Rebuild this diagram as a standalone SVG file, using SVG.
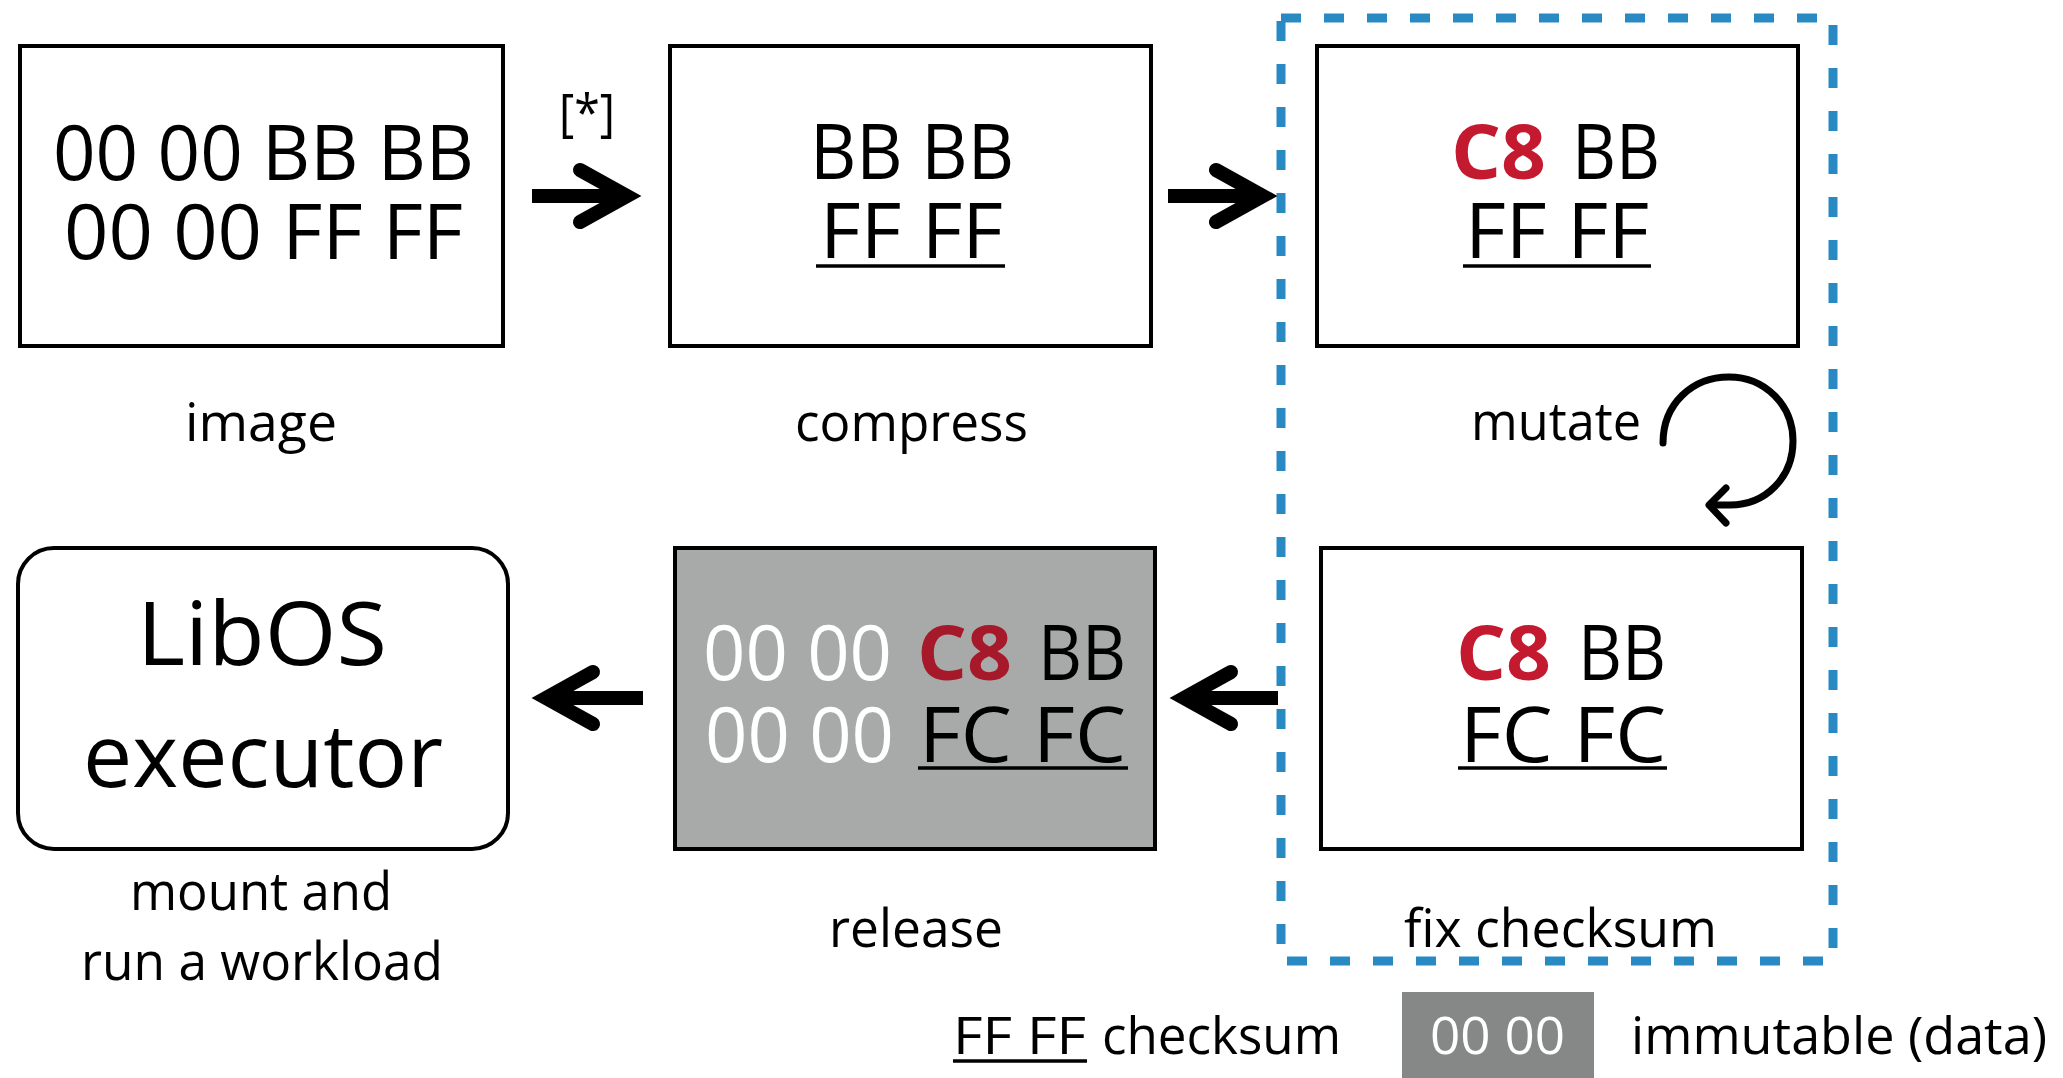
<svg xmlns="http://www.w3.org/2000/svg" width="2063" height="1078" viewBox="0 0 2063 1078">
  <style>
    text { font-family: "Open Sans", "Liberation Sans", sans-serif; fill: #000; }
    .box { fill: #fff; stroke: #000; stroke-width: 4; }
    .gray { fill: #a7aaa9; stroke: #000; stroke-width: 4; }
    .hex { font-size: 76px; }
    .big { font-size: 88px; }
    .lbl { font-size: 53px; }
    .leg { font-size: 51px; }
    .red { fill: #c41a2f; font-weight: 700; }
    .red-dim { fill: #a6192b; font-weight: 700; }
    .wh { fill: #fff; }
    .ul { stroke: #000; stroke-width: 3.5; }
    .shaft { stroke: #000; stroke-width: 14; fill: none; }
    .loop { stroke: #000; stroke-width: 7; fill: none; stroke-linecap: round; stroke-linejoin: round; }
    .group { fill: none; stroke: #2889c3; stroke-width: 9; stroke-dasharray: 20 23; }
  </style>
  <defs>
    <marker id="chevron" markerUnits="userSpaceOnUse" viewBox="-80 -45 110 90" refX="0" refY="0" markerWidth="110" markerHeight="90" orient="auto" overflow="visible">
      <path d="M-47,-26 L0,0 L-47,26" fill="none" stroke="#000" stroke-width="14" stroke-linecap="round" stroke-linejoin="miter" stroke-miterlimit="6"/>
    </marker>
  </defs>

  <!-- dashed group around mutate / fix checksum -->
  <rect id="mutation-loop" class="group" x="1281" y="18" width="552" height="943"/>

  <g id="image">
    <rect class="box" x="20" y="46" width="483" height="300"/>
    <text class="hex"><tspan x="53" y="180" textLength="421" lengthAdjust="spacingAndGlyphs">00 00 BB BB</tspan><tspan x="64" y="259" textLength="399" lengthAdjust="spacingAndGlyphs">00 00 FF FF</tspan></text>
    <text class="lbl" x="185" y="441" textLength="152" lengthAdjust="spacingAndGlyphs">image</text>
  </g>

  <g id="compress">
    <rect class="box" x="670" y="46" width="481" height="300"/>
    <text class="hex"><tspan x="810" y="179" textLength="204" lengthAdjust="spacingAndGlyphs">BB BB</tspan><tspan x="820" y="258" textLength="183" lengthAdjust="spacingAndGlyphs">FF FF</tspan></text>
    <line class="ul" x1="816" y1="266" x2="1005" y2="266"/>
    <text class="lbl" x="795" y="441" textLength="233" lengthAdjust="spacingAndGlyphs">compress</text>
  </g>

  <g id="mutate">
    <rect class="box" x="1317" y="46" width="481" height="300"/>
    <text class="hex"><tspan class="red" x="1451" y="179" textLength="95" lengthAdjust="spacingAndGlyphs">C8</tspan><tspan x="1572" y="179" textLength="88" lengthAdjust="spacingAndGlyphs">BB</tspan><tspan x="1465" y="258" textLength="184" lengthAdjust="spacingAndGlyphs">FF FF</tspan></text>
    <line class="ul" x1="1463" y1="266" x2="1651" y2="266"/>
    <text class="lbl" x="1471" y="440" textLength="170" lengthAdjust="spacingAndGlyphs">mutate</text>
  </g>

  <g id="fix-checksum">
    <rect class="box" x="1321" y="548" width="481" height="301"/>
    <text class="hex"><tspan class="red" x="1456" y="680" textLength="95" lengthAdjust="spacingAndGlyphs">C8</tspan><tspan x="1578" y="680" textLength="88" lengthAdjust="spacingAndGlyphs">BB</tspan><tspan x="1460" y="762" textLength="206" lengthAdjust="spacingAndGlyphs">FC FC</tspan></text>
    <line class="ul" x1="1458" y1="768" x2="1667" y2="768"/>
    <text class="lbl" x="1404" y="947" textLength="313" lengthAdjust="spacingAndGlyphs">fix checksum</text>
  </g>

  <g id="release">
    <rect class="gray" x="675" y="548" width="480" height="301"/>
    <text class="hex"><tspan class="wh" x="703" y="680" textLength="189" lengthAdjust="spacingAndGlyphs">00 00</tspan><tspan class="red-dim" x="917" y="680" textLength="95" lengthAdjust="spacingAndGlyphs">C8</tspan><tspan x="1038" y="680" textLength="88" lengthAdjust="spacingAndGlyphs">BB</tspan><tspan class="wh" x="705" y="762" textLength="189" lengthAdjust="spacingAndGlyphs">00 00</tspan><tspan x="919" y="762" textLength="207" lengthAdjust="spacingAndGlyphs">FC FC</tspan></text>
    <line class="ul" x1="918" y1="768" x2="1128" y2="768"/>
    <text class="lbl" x="829" y="947" textLength="174" lengthAdjust="spacingAndGlyphs">release</text>
  </g>

  <g id="libos-executor">
    <rect class="box" x="18" y="548" width="490" height="301" rx="36" ry="36"/>
    <text class="big"><tspan x="137" y="665" textLength="250" lengthAdjust="spacingAndGlyphs">LibOS</tspan><tspan x="83" y="787" textLength="360" lengthAdjust="spacingAndGlyphs">executor</tspan></text>
    <text class="lbl"><tspan x="130" y="910" textLength="262" lengthAdjust="spacingAndGlyphs">mount and</tspan><tspan x="81" y="980" textLength="362" lengthAdjust="spacingAndGlyphs">run a workload</tspan></text>
  </g>

  <g id="connectors">
    <text x="559" y="131" style="font-size:52px" textLength="56" lengthAdjust="spacingAndGlyphs">[*]</text>
    <line class="shaft" x1="532" y1="196" x2="627" y2="196" marker-end="url(#chevron)"/>
    <line class="shaft" x1="1168" y1="196" x2="1263" y2="196" marker-end="url(#chevron)"/>
    <line class="shaft" x1="1278" y1="698" x2="1184" y2="698" marker-end="url(#chevron)"/>
    <line class="shaft" x1="643" y1="698" x2="546" y2="698" marker-end="url(#chevron)"/>
    <path class="loop" d="M1663,443 C1663,404 1692,377 1729,377 C1765,377 1793,405 1793,441 C1793,477 1766,505 1730,505 L1710,505"/>
    <path class="loop" d="M1726,488 L1709,505 L1726,523"/>
  </g>

  <g id="legend">
    <text class="leg"><tspan x="953" y="1054" textLength="133" lengthAdjust="spacingAndGlyphs">FF FF</tspan><tspan x="1102" y="1054" textLength="239" lengthAdjust="spacingAndGlyphs">checksum</tspan></text>
    <line class="ul" x1="953" y1="1061" x2="1087" y2="1061"/>
    <rect x="1402" y="992" width="192" height="86" fill="#858887"/>
    <text class="leg wh" x="1430" y="1054" textLength="135" lengthAdjust="spacingAndGlyphs">00 00</text>
    <text class="leg" x="1631" y="1054" textLength="416" lengthAdjust="spacingAndGlyphs">immutable (data)</text>
  </g>
</svg>
